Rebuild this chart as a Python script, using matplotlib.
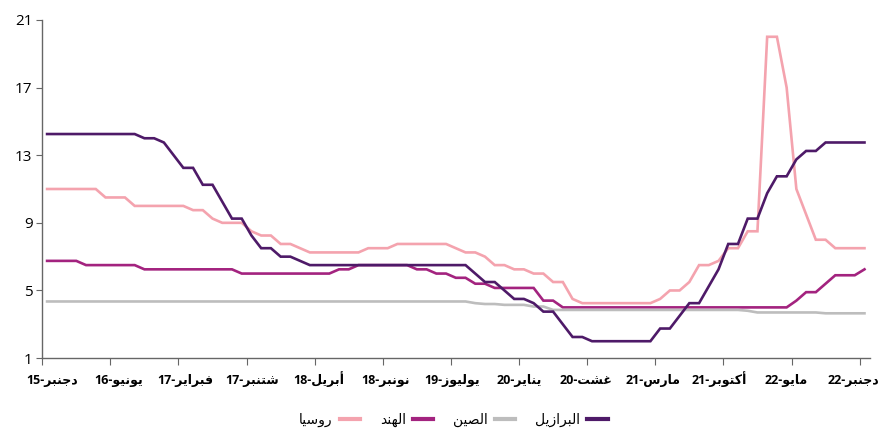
import matplotlib
matplotlib.use("Agg")
import matplotlib.pyplot as plt
from matplotlib.lines import Line2D

# monthly policy rates, Dec 2015 .. Dec 2022 (85 points)
brazil = [14.25] * 10 + [14.0, 14.0, 13.75, 13.0, 12.25, 12.25, 11.25, 11.25, 10.25, 9.25,
          9.25, 8.25, 7.5, 7.5, 7.0, 7.0, 6.75] + [6.5] * 17 + [6.0, 5.5, 5.5, 5.0, 4.5, 4.5,
          4.25, 3.75, 3.75, 3.0, 2.25, 2.25] + [2.0] * 7 + [2.75, 2.75, 3.5, 4.25, 4.25, 5.25,
          6.25, 7.75, 7.75, 9.25, 9.25, 10.75, 11.75, 11.75, 12.75, 13.25, 13.25] + [13.75] * 5
china = [4.35] * 44 + [4.25, 4.2, 4.2, 4.15, 4.15, 4.15, 4.05, 4.05] + [3.85] * 20 \
        + [3.8] + [3.7] * 7 + [3.65] * 5
india = [6.75] * 4 + [6.5] * 6 + [6.25] * 10 + [6.0] * 10 + [6.25, 6.25] + [6.5] * 6 \
        + [6.25, 6.25, 6.0, 6.0, 5.75, 5.75, 5.4, 5.4] + [5.15] * 5 + [4.4, 4.4] \
        + [4.0] * 24 + [4.4, 4.9, 4.9, 5.4, 5.9, 5.9, 5.9, 6.25]
russia = [11.0] * 6 + [10.5] * 3 + [10.0] * 6 + [9.75, 9.75, 9.25, 9.0, 9.0, 9.0, 8.5,
          8.25, 8.25, 7.75, 7.75, 7.5] + [7.25] * 6 + [7.5] * 3 + [7.75] * 6 \
         + [7.5, 7.25, 7.25, 7.0, 6.5, 6.5, 6.25, 6.25, 6.0, 6.0, 5.5, 5.5, 4.5] \
         + [4.25] * 8 + [4.5, 5.0, 5.0, 5.5, 6.5, 6.5, 6.75, 7.5, 7.5, 8.5, 8.5, 20.0,
            20.0, 17.0, 11.0, 9.5, 8.0, 8.0] + [7.5] * 4

months = ["دجنبر", "يونيو", "فبراير", "شتنبر", "أبريل", "نونبر", "يوليوز",
          "يناير", "غشت", "مارس", "أكتوبر", "مايو", "دجنبر"]
years = ["15", "16", "17", "17", "18", "18", "19", "20", "20", "21", "21", "22", "22"]

names = ["روسيا", "الهند", "الصين", "البرازيل"]
series = [russia, india, china, brazil]
colors = ["#F4A3AE", "#A3237F", "#BDBDBD", "#4E1A68"]

# matplotlib has no arabic shaping: pick presentation forms and reverse by hand
AR_ISO = {"ا": 0xFE8D, "أ": 0xFE83, "د": 0xFEA9, "ر": 0xFEAD, "ز": 0xFEAF, "و": 0xFEED,
          "ب": 0xFE8F, "ت": 0xFE95, "ج": 0xFE9D, "س": 0xFEB1, "ش": 0xFEB5, "ص": 0xFEB9,
          "غ": 0xFECD, "ف": 0xFED1, "ك": 0xFED9, "ل": 0xFEDD, "م": 0xFEE1, "ن": 0xFEE5,
          "ه": 0xFEE9, "ي": 0xFEF1}
RIGHT_ONLY = set("اأدرزو")


def shape(word):
    out = []
    for k, ch in enumerate(word):
        prev = word[k - 1] if k > 0 else None
        nxt = word[k + 1] if k + 1 < len(word) else None
        jp = prev in AR_ISO and prev not in RIGHT_ONLY
        jn = ch not in RIGHT_ONLY and nxt in AR_ISO
        off = 3 if (jp and jn) else 1 if jp else 2 if jn else 0
        out.append(chr(AR_ISO[ch] + off))
    return "".join(reversed(out))


FONT = ["Open Sans", "DejaVu Sans"]
plt.rcParams["font.family"] = FONT

fig = plt.figure(figsize=(8.8, 4.32), dpi=100)
ax = fig.add_axes([0.048, 0.171, 0.941, 0.783])

x = list(range(len(brazil)))
for vals, c in zip(series, colors):
    ax.plot(x, vals, color=c, lw=1.9, solid_joinstyle="miter")

ax.set_xlim(-0.5, 84.6)
ax.set_ylim(1, 21)
ax.set_yticks([1, 5, 9, 13, 17, 21])

# tick marks every 7 months, labels sit on a slightly tighter spacing
ax.set_xticks([-0.5 + 7 * k for k in range(13)])
ax.set_xticklabels([])
ax.set_xticks([0.5 + 6.86 * k for k in range(13)], minor=True)
ax.set_xticklabels([y + "-" + shape(m) for m, y in zip(months, years)], minor=True,
                   fontsize=9, fontweight="bold", va="baseline")
for s in ["top", "right"]:
    ax.spines[s].set_visible(False)
for s in ["left", "bottom"]:
    ax.spines[s].set_color("#666666")
    ax.spines[s].set_linewidth(1.0)
ax.tick_params(axis="y", length=4, color="#666666", labelsize=11, pad=3)
ax.tick_params(axis="x", which="major", length=5, color="#666666")
ax.tick_params(axis="x", which="minor", length=0, pad=18.5)

handles = [Line2D([0], [0], color=c, lw=3) for c in colors]
fig.legend(handles, [shape(n) for n in names], loc="center", bbox_to_anchor=(0.515, 0.026),
           ncol=4, frameon=False, markerfirst=False, handlelength=1.45,
           columnspacing=1.4, handletextpad=0.55, fontsize=10)

fig.savefig("out.png", dpi=100)
